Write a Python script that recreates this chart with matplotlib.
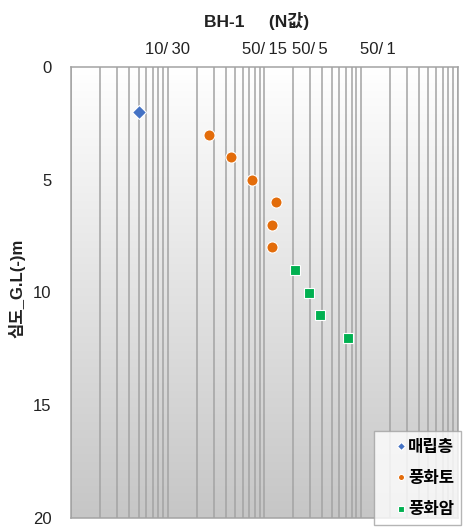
import numpy as np
import matplotlib
matplotlib.use("Agg")
import matplotlib.pyplot as plt
from matplotlib.ticker import LogLocator, NullFormatter, FixedLocator, FixedFormatter
from matplotlib.colors import LinearSegmentedColormap

plt.rcParams['font.family'] = ['Liberation Sans', 'Noto Sans CJK KR', 'DejaVu Sans']

# ---- data ----
fill_n = [5]
fill_depth = [2]
soil_n = [27, 45.6, 75.5, 131.6, 120.5, 120.5]
soil_depth = [3, 4, 5, 6, 7, 8]
rock_n = [207, 292, 377, 740]
rock_depth = [9, 10, 11, 12]
top_tick_values = [10, 100, 300, 1500]
top_tick_labels = ["10/\u200930", "50/\u200915", "50/\u20095", "50/\u20091"]
depth_ticks = [0, 5, 10, 15, 20]
series_names = ["매립층", "풍화토", "풍화암"]

W, H = 472, 527
fig = plt.figure(figsize=(W / 100, H / 100), dpi=100)
pos = [71 / W, 1 - 518 / H, (457.5 - 71) / W, (518 - 67) / H]

# gradient background axes
bg = fig.add_axes(pos, zorder=0)
grad = np.linspace(1, 0, 256).reshape(-1, 1)
cmap = LinearSegmentedColormap.from_list("g", ["#c6c6c6", "#ffffff"])
bg.imshow(grad, aspect='auto', cmap=cmap, extent=[0, 1, 0, 1], origin='upper', vmin=0, vmax=1)
bg.set_axis_off()

ax = fig.add_axes(pos, zorder=1)
ax.set_facecolor('none')
ax.set_xscale('log')
ax.set_xlim(1, 10000)
ax.set_ylim(20, 0)

grid_col = '#a3a3a3'
ax.xaxis.set_minor_locator(LogLocator(base=10, subs=np.arange(1, 10), numticks=20))
ax.xaxis.set_minor_formatter(NullFormatter())
ax.xaxis.remove_overlapping_locs = False
ax.xaxis.set_major_locator(FixedLocator(top_tick_values))
ax.xaxis.set_major_formatter(FixedFormatter(top_tick_labels))
ax.xaxis.tick_top()
ax.tick_params(axis='x', which='both', length=0, labelsize=12, pad=7, colors='#222222')
ax.grid(which='minor', axis='x', color=grid_col, linewidth=1.1)
ax.grid(which='major', axis='x', visible=False)
ax.grid(axis='y', visible=False)

ax.set_yticks(depth_ticks)
ax.tick_params(axis='y', length=0, labelsize=12, pad=14, colors='#222222')

for s in ax.spines.values():
    s.set_color(grid_col)
    s.set_linewidth(1.1)

ax.plot(fill_n, fill_depth, linestyle='none', marker='D', markersize=7,
        color='#4472c4', markeredgecolor='white', markeredgewidth=0.8, label=series_names[0], zorder=3)
ax.plot(soil_n, soil_depth, linestyle='none', marker='o', markersize=8,
        color='#e36c0a', markeredgecolor='white', markeredgewidth=0.8, label=series_names[1], zorder=3)
ax.plot(rock_n, rock_depth, linestyle='none', marker='s', markersize=7,
        color='#00b050', markeredgecolor='white', markeredgewidth=0.8, label=series_names[2], zorder=3)

leg = fig.legend(*ax.get_legend_handles_labels(), loc='upper left',
                 bbox_to_anchor=(374 / W, 1 - 431 / H),
                 bbox_transform=fig.transFigure, frameon=True, fancybox=False,
                 markerscale=0.55, handlelength=2.4, handletextpad=-0.76,
                 labelspacing=0.8, borderpad=0.4, borderaxespad=0,
                 prop={'family': ['Noto Sans CJK KR'], 'weight': 'bold', 'size': 12})
leg.get_frame().set_edgecolor('#a3a3a3')
leg.get_frame().set_linewidth(1.0)
leg.set_zorder(5)

fig.text(257 / W, 1 - 21 / H, "BH-1     (N값)", ha='center', va='center',
         fontsize=12.5, fontweight='bold', color='#222222')
fig.text(17 / W, 1 - 288 / H, "심도_G.L(-)m", ha='center', va='center', rotation=90,
         fontsize=12, fontweight='bold', color='#222222')

fig.savefig("out.png", dpi=100)
